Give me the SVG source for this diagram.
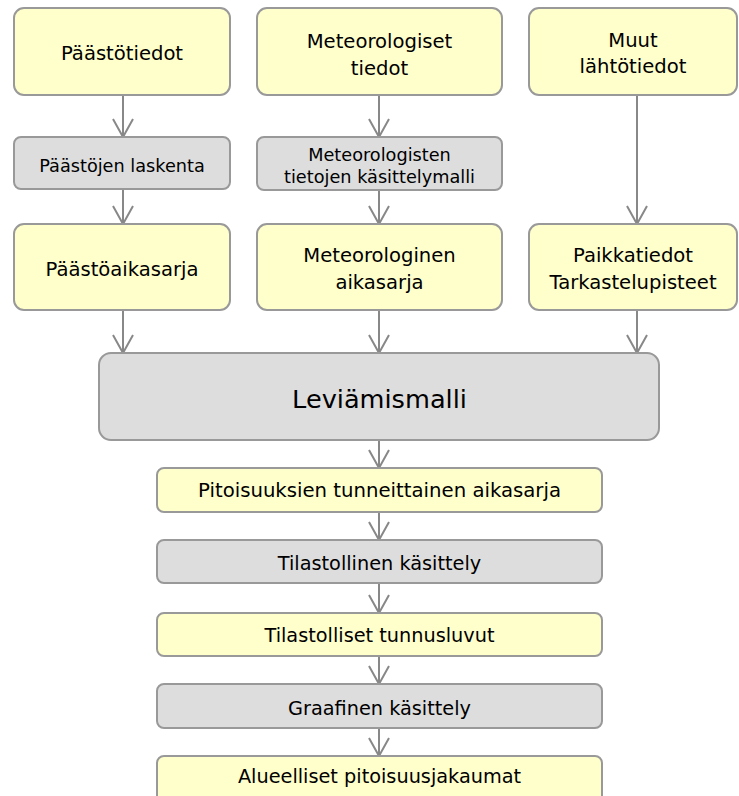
<svg xmlns="http://www.w3.org/2000/svg" width="739" height="796" viewBox="0 0 739 796">
<defs>
<style>
.y{fill:#ffffcc;stroke:#999;stroke-width:2}
.g{fill:#dddddd;stroke:#999;stroke-width:2}
text{font-family:"DejaVu Sans","Liberation Sans",sans-serif;fill:#000;text-anchor:middle}
.t1{font-size:19.6px}
.t2{font-size:17.7px}
.t3{font-size:19.3px}
.t4{font-size:25.6px}
.c line{stroke:#888;stroke-width:2;marker-end:url(#arr)}
</style>
<marker id="arr" markerUnits="userSpaceOnUse" viewBox="-20 -11 22 22" markerWidth="22" markerHeight="22" refX="0" refY="0" orient="auto">
<path d="M-18,-10 L0,0 L-18,10" fill="none" stroke="#888" stroke-width="2"/>
</marker>
</defs>
<rect width="739" height="796" fill="#fff"/>
<g class="c" id="connectors">
<line x1="123" y1="95" x2="123" y2="137"/>
<line x1="123" y1="189" x2="123" y2="224"/>
<line x1="123" y1="310" x2="123" y2="353"/>
<line x1="379" y1="95" x2="379" y2="137"/>
<line x1="379" y1="190" x2="379" y2="224"/>
<line x1="379" y1="310" x2="379" y2="353"/>
<line x1="637" y1="95" x2="637" y2="224"/>
<line x1="637" y1="310" x2="637" y2="353"/>
<line x1="379" y1="440" x2="379" y2="468"/>
<line x1="379" y1="512" x2="379" y2="540"/>
<line x1="379" y1="583" x2="379" y2="613"/>
<line x1="379" y1="656" x2="379" y2="684"/>
<line x1="379" y1="728" x2="379" y2="756"/>
</g>
<g id="paastotiedot"><rect class="y" x="14" y="8" width="216" height="87" rx="10"/><text class="t1" x="122" y="60">Päästötiedot</text></g>
<g id="meteorologiset"><rect class="y" x="257" y="8" width="245" height="87" rx="10"/><text class="t1" x="379.5" y="48">Meteorologiset</text><text class="t1" x="379.5" y="75">tiedot</text></g>
<g id="muut"><rect class="y" x="529" y="8" width="208" height="87" rx="10"/><text class="t1" x="633" y="47">Muut</text><text class="t1" x="633" y="73">lähtötiedot</text></g>
<g id="paastojen-laskenta"><rect class="g" x="14" y="137" width="216" height="52" rx="7"/><text class="t2" x="122" y="172">Päästöjen laskenta</text></g>
<g id="met-kasittelymalli"><rect class="g" x="257" y="137" width="245" height="53" rx="7"/><text class="t2" x="379.5" y="161">Meteorologisten</text><text class="t2" x="379.5" y="183">tietojen käsittelymalli</text></g>
<g id="paastoaikasarja"><rect class="y" x="14" y="224" width="216" height="86" rx="10"/><text class="t1" x="122" y="276">Päästöaikasarja</text></g>
<g id="meteorologinen-aikasarja"><rect class="y" x="257" y="224" width="245" height="86" rx="10"/><text class="t1" x="379.5" y="262">Meteorologinen</text><text class="t1" x="379.5" y="289">aikasarja</text></g>
<g id="paikkatiedot"><rect class="y" x="529" y="224" width="208" height="86" rx="10"/><text class="t1" x="633" y="262">Paikkatiedot</text><text class="t1" x="633" y="289">Tarkastelupisteet</text></g>
<g id="leviamismalli"><rect class="g" x="99" y="353" width="560" height="87" rx="12"/><text class="t4" x="379.5" y="408">Leviämismalli</text></g>
<g id="pitoisuuksien-aikasarja"><rect class="y" x="157" y="468" width="445" height="44" rx="7"/><text class="t3" x="379.5" y="497" style="font-size:19.7px">Pitoisuuksien tunneittainen aikasarja</text></g>
<g id="tilastollinen-kasittely"><rect class="g" x="157" y="540" width="445" height="43" rx="7"/><text class="t3" x="379.5" y="570">Tilastollinen käsittely</text></g>
<g id="tilastolliset-tunnusluvut"><rect class="y" x="157" y="613" width="445" height="43" rx="7"/><text class="t3" x="379.5" y="642">Tilastolliset tunnusluvut</text></g>
<g id="graafinen-kasittely"><rect class="g" x="157" y="684" width="445" height="44" rx="7"/><text class="t3" x="379.5" y="715">Graafinen käsittely</text></g>
<g id="alueelliset"><rect class="y" x="157" y="756" width="445" height="50" rx="7"/><text class="t3" x="379.5" y="783">Alueelliset pitoisuusjakaumat</text></g>
</svg>
